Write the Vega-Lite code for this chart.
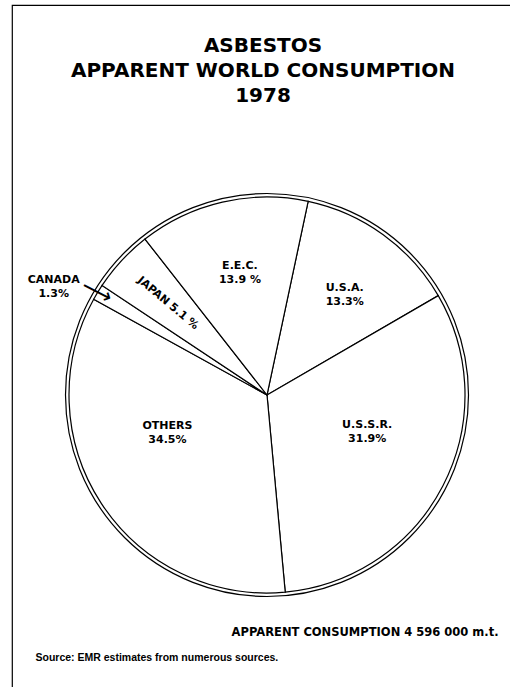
{
  "$schema": "https://vega.github.io/schema/vega-lite/v6.json",
  "width": 510,
  "height": 780,
  "autosize": {"type": "none"},
  "padding": {"left": 12, "top": 5, "right": -12, "bottom": -98},
  "background": "white",
  "title": {
    "text": ["ASBESTOS", "APPARENT WORLD CONSUMPTION", "1978"],
    "anchor": "middle",
    "baseline": "top",
    "offset": -104,
    "dx": -4,
    "font": "DejaVu Sans",
    "fontSize": 20,
    "fontWeight": "bold",
    "lineHeight": 25,
    "color": "black"
  },
  "config": {"view": {"stroke": "black", "strokeWidth": 1.2}},
  "datasets": {
    "shares": [
      {"region": "U.S.A.", "share": 13.3, "label": "U.S.A.\n13.3%"},
      {"region": "U.S.S.R.", "share": 31.9, "label": "U.S.S.R.\n31.9%"},
      {"region": "OTHERS", "share": 34.5, "label": "OTHERS\n34.5%"},
      {"region": "CANADA", "share": 1.3, "label": "CANADA\n1.3%"},
      {"region": "JAPAN", "share": 5.1, "label": "JAPAN 5.1 %"},
      {"region": "E.E.C.", "share": 13.9, "label": "E.E.C.\n13.9 %"}
    ]
  },
  "layer": [
    {
      "data": {"values": [{"ring": "outer"}]},
      "mark": {"type": "arc", "theta": 6.2832, "outerRadius": 201.5, "fill": "white", "stroke": "black", "strokeWidth": 1.2},
      "encoding": {}
    },
    {
      "data": {"name": "shares"},
      "mark": {"type": "arc", "outerRadius": 198, "fill": "white", "stroke": "black", "strokeWidth": 1.2},
      "encoding": {
        "theta": {"field": "share", "type": "quantitative", "stack": true, "scale": {"range": [0.2094, 6.4926]}}
      }
    },
    {
      "data": {"name": "shares"},
      "mark": {"type": "text", "text": {"expr": "datum.region === 'E.E.C.' || datum.region === 'U.S.A.' ? datum.label : ''"}, "radius": 129, "dx": 2, "dy": -3, "font": "DejaVu Sans", "fontSize": 11, "fontWeight": "bold", "lineBreak": "\n", "lineHeight": 14, "align": "center", "baseline": "middle", "color": "black"},
      "encoding": {
        "theta": {"field": "share", "type": "quantitative", "stack": true}
      }
    },
    {
      "data": {"name": "shares"},
      "mark": {"type": "text", "text": {"expr": "datum.region === 'U.S.S.R.' ? datum.label : ''"}, "radius": 106, "dx": 6, "dy": -19, "font": "DejaVu Sans", "fontSize": 11, "fontWeight": "bold", "lineBreak": "\n", "lineHeight": 14, "align": "center", "baseline": "middle", "color": "black"},
      "encoding": {
        "theta": {"field": "share", "type": "quantitative", "stack": true}
      }
    },
    {
      "data": {"name": "shares"},
      "mark": {"type": "text", "text": {"expr": "datum.region === 'OTHERS' ? datum.label : ''"}, "radius": 107, "dx": -10, "dy": -28, "font": "DejaVu Sans", "fontSize": 11, "fontWeight": "bold", "lineBreak": "\n", "lineHeight": 14, "align": "center", "baseline": "middle", "color": "black"},
      "encoding": {
        "theta": {"field": "share", "type": "quantitative", "stack": true}
      }
    },
    {
      "data": {"name": "shares"},
      "mark": {"type": "text", "text": {"expr": "datum.region === 'CANADA' ? datum.label : ''"}, "radius": 239, "dx": -9, "dy": 9, "font": "DejaVu Sans", "fontSize": 11, "fontWeight": "bold", "lineBreak": "\n", "lineHeight": 14, "align": "center", "baseline": "middle", "color": "black"},
      "encoding": {
        "theta": {"field": "share", "type": "quantitative", "stack": true}
      }
    },
    {
      "data": {"name": "shares"},
      "mark": {"type": "text", "text": {"expr": "datum.region === 'JAPAN' ? datum.label : ''"}, "radius": 135, "angle": 40, "font": "DejaVu Sans", "fontSize": 11, "fontWeight": "bold", "align": "center", "baseline": "middle", "color": "black"},
      "encoding": {
        "theta": {"field": "share", "type": "quantitative", "stack": true}
      }
    },
    {
      "data": {"name": "shares"},
      "mark": {"type": "text", "text": {"expr": "datum.region === 'CANADA' ? '⟶' : ''"}, "radius": 199, "angle": 27, "font": "DejaVu Sans", "fontSize": 22, "align": "center", "baseline": "middle", "color": "black"},
      "encoding": {
        "theta": {"field": "share", "type": "quantitative", "stack": true}
      }
    },
    {
      "data": {"values": [{}]},
      "mark": {"type": "point", "opacity": 0},
      "encoding": {
        "x": {"datum": 0, "type": "quantitative", "axis": {"orient": "bottom", "domain": false, "ticks": false, "labels": false, "grid": false, "title": "APPARENT CONSUMPTION 4 596 000 m.t.", "titleX": 486, "titleY": -150, "titleAlign": "right", "titleAnchor": "end", "titleBaseline": "alphabetic", "titleFont": "DejaVu Sans", "titleFontSize": 11.5, "titleFontWeight": "bold", "titleColor": "black"}},
        "y": {"datum": 0, "type": "quantitative", "axis": {"orient": "left", "domain": false, "ticks": false, "labels": false, "grid": false, "title": "Source: EMR estimates from numerous sources.", "titleAngle": 0, "titleX": 23, "titleY": 655, "titleAlign": "left", "titleBaseline": "alphabetic", "titleFont": "Liberation Sans", "titleFontSize": 10.5, "titleFontWeight": "bold", "titleColor": "black"}}
      }
    }
  ]
}
